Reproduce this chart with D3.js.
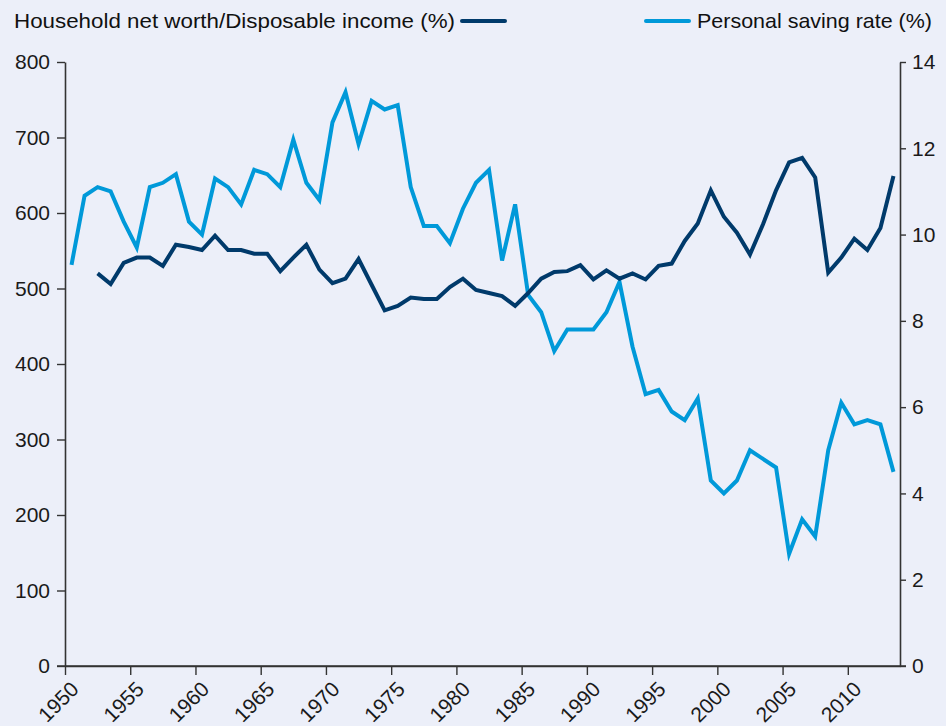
<!DOCTYPE html>
<html>
<head>
<meta charset="utf-8">
<script src="https://cdn.jsdelivr.net/npm/d3@7"></script>
<style>
  body { margin: 0; background: #eceff9; }
  svg { display: block; font-family: 'Liberation Sans', Arial, sans-serif; }
</style>
</head>
<body>
<script>
const years = d3.range(1950, 2014)

// personal saving rate (%), 1950-2013
const savingRate = [
  9.3, 10.9, 11.1, 11.0, 10.3, 9.7, 11.1, 11.2, 11.4, 10.3,
  10.0, 11.3, 11.1, 10.7, 11.5, 11.4, 11.1, 12.2, 11.2, 10.8,
  12.6, 13.3, 12.1, 13.1, 12.9, 13.0, 11.1, 10.2, 10.2, 9.8,
  10.6, 11.2, 11.5, 9.4, 10.7, 8.6, 8.2, 7.3, 7.8, 7.8,
  7.8, 8.2, 8.9, 7.4, 6.3, 6.4, 5.9, 5.7, 6.2, 4.3,
  4.0, 4.3, 5.0, 4.8, 4.6, 2.6, 3.4, 3.0, 5.0, 6.1,
  5.6, 5.7, 5.6, 4.5
]

// household net worth / disposable income (%), 1952-2013
const netWorthYears = d3.range(1952, 2014)
const netWorth = [
  520, 506, 534, 541, 541, 530, 558, 555, 551, 570,
  551, 551, 546, 546, 523, 541, 558, 525, 507, 513,
  539, 505, 471, 477, 488, 486, 486, 502, 513, 498,
  494, 490, 477, 494, 513, 522, 523, 531, 512, 524,
  513, 520, 512, 530, 533, 563, 586, 630, 595, 574,
  545, 585, 630, 667, 673, 647, 521, 541, 566, 551,
  580, 649
]

const leftTicks = d3.range(0, 801, 100)
const rightTicks = d3.range(0, 15, 2)
const xTicks = d3.range(1950, 2011, 5)

const width = 946, height = 726
const margin = {top: 62, right: 46, bottom: 60, left: 65}
const innerW = width - margin.left - margin.right
const innerH = height - margin.top - margin.bottom

const svg = d3.select('body').append('svg')
  .attr('width', width)
  .attr('height', height)

const x = d3.scaleLinear().domain([1950, 2014]).range([0, innerW])
const yL = d3.scaleLinear().domain([0, 800]).range([innerH, 0])
const yR = d3.scaleLinear().domain([0, 14]).range([innerH, 0])

const g = svg.append('g')
  .attr('transform', 'translate(' + margin.left + ',' + margin.top + ')')

const axisColor = '#333'
const textColor = '#1a1a1a'

// left axis
const gl = g.append('g')
  .call(d3.axisLeft(yL).tickValues(leftTicks).tickSize(8).tickSizeOuter(0).tickPadding(7))
gl.selectAll('text').attr('font-size', 21).attr('fill', textColor)

// right axis
const gr = g.append('g')
  .attr('transform', 'translate(' + innerW + ',0)')
  .call(d3.axisRight(yR).tickValues(rightTicks).tickSize(6).tickSizeOuter(0).tickPadding(6))
gr.selectAll('text').attr('font-size', 21).attr('fill', textColor)

// bottom axis
const gx = g.append('g')
  .attr('transform', 'translate(0,' + innerH + ')')
  .call(d3.axisBottom(x).tickValues(xTicks).tickFormat(d3.format('d')).tickSize(9).tickSizeOuter(0))
gx.selectAll('text')
  .attr('font-size', 21)
  .attr('fill', textColor)
  .attr('text-anchor', 'end')
  .attr('dy', 0)
  .attr('transform', 'translate(6,16) rotate(-45)')

svg.selectAll('.domain').attr('stroke', axisColor).attr('stroke-width', 1.6)
svg.selectAll('.tick line').attr('stroke', axisColor).attr('stroke-width', 1.4)

// x-axis baseline spanning both zero ticks
g.append('line')
  .attr('x1', -8).attr('x2', innerW + 6)
  .attr('y1', innerH).attr('y2', innerH)
  .attr('stroke', axisColor).attr('stroke-width', 1.6)

const darkBlue = '#003a6b', lightBlue = '#0099d9'

const savingLine = d3.line()
  .x(function(d, i) { return x(years[i] + 0.5) })
  .y(function(d) { return yR(d) })

const netLine = d3.line()
  .x(function(d, i) { return x(netWorthYears[i] + 0.5) })
  .y(function(d) { return yL(d) })

g.append('path')
  .datum(savingRate)
  .attr('fill', 'none')
  .attr('stroke', lightBlue)
  .attr('stroke-width', 4)
  .attr('d', savingLine)

g.append('path')
  .datum(netWorth)
  .attr('fill', 'none')
  .attr('stroke', darkBlue)
  .attr('stroke-width', 4)
  .attr('d', netLine)

// legend
const legend = svg.append('g')
legend.append('text')
  .attr('x', 14).attr('y', 28)
  .attr('font-size', 21)
  .attr('fill', '#111')
  .attr('textLength', 441)
  .attr('lengthAdjust', 'spacingAndGlyphs')
  .text('Household net worth/Disposable income (%)')
legend.append('line')
  .attr('x1', 462).attr('x2', 505).attr('y1', 21).attr('y2', 21)
  .attr('stroke', darkBlue).attr('stroke-width', 4).attr('stroke-linecap', 'round')

legend.append('line')
  .attr('x1', 646).attr('x2', 689).attr('y1', 21).attr('y2', 21)
  .attr('stroke', lightBlue).attr('stroke-width', 4).attr('stroke-linecap', 'round')
legend.append('text')
  .attr('x', 697).attr('y', 28)
  .attr('font-size', 21)
  .attr('fill', '#111')
  .attr('textLength', 235)
  .attr('lengthAdjust', 'spacingAndGlyphs')
  .text('Personal saving rate (%)')
</script>
</body>
</html>
